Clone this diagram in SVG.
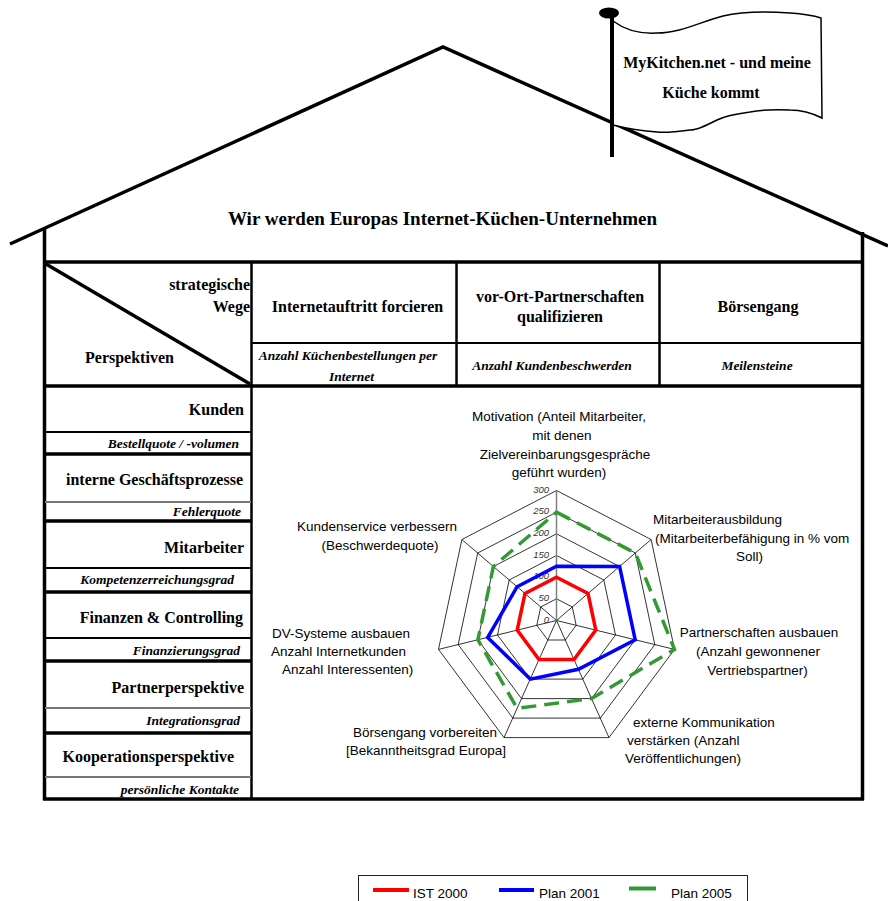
<svg xmlns="http://www.w3.org/2000/svg" width="888" height="901" viewBox="0 0 888 901">
  <defs>
    <style>
      .serif { font-family: "Liberation Serif", "Times New Roman", serif; fill: #000; }
      .b16 { font-size: 16px; font-weight: bold; }
      .bi { font-size: 13.5px; font-weight: bold; font-style: italic; }
      .sans { font-family: "Liberation Sans", Arial, sans-serif; fill: #000; font-size: 13.5px; }
      .tick { font-family: "Liberation Sans", Arial, sans-serif; font-size: 9.5px; font-style: italic; fill: #333; text-anchor: end; }
      .thick { stroke: #000; stroke-width: 3.5; fill: none; }
      .mid { stroke: #000; stroke-width: 2.5; fill: none; }
      .thin { stroke: #000; stroke-width: 2; fill: none; }
      .grey { stroke: #777; stroke-width: 2; fill: none; }
      .ring { stroke: #000; stroke-width: 0.8; fill: none; }
      .end { text-anchor: end; }
      .mid-a { text-anchor: middle; }
    </style>
  </defs>
  <rect width="888" height="901" fill="#fff"/>

  <!-- roof and walls -->
  <g id="house">
    <polyline class="thick" points="10,244 443,47 888,246"/>
    <line class="thick" x1="44.5" y1="228" x2="44.5" y2="800"/>
    <line class="thick" x1="862.5" y1="232" x2="862.5" y2="800"/>
  </g>

  <!-- flag on the pole -->
  <g id="flag">
    <path d="M613,21 C625,30 640,34 657,33 C680,33 700,22 723,16 C740,12 760,11 790,13 C805,14 815,16 821,18 L822,118 C812,113 800,110 790,110 C770,109 760,110 750,112 C735,114 725,116 717,120 C705,126 697,130 690,130 C675,132 665,133 657,132 C640,131 625,128 613,125 Z" fill="#fff" stroke="#000" stroke-width="1.5"/>
    <rect x="610" y="13" width="4" height="144" fill="#000"/>
    <ellipse cx="609" cy="13" rx="10" ry="5.5" fill="#000"/>
    <text class="serif mid-a" x="717" y="68" font-size="16" font-weight="bold">MyKitchen.net - und meine</text>
    <text class="serif mid-a" x="711" y="98" font-size="16" font-weight="bold">Küche kommt</text>
  </g>

  <g id="title">
    <text class="serif mid-a" x="442.5" y="225" font-size="19" font-weight="bold">Wir werden Europas Internet-Küchen-Unternehmen</text>
  </g>

  <!-- table frame -->
  <g id="table-lines">
    <line class="thick" x1="43" y1="262" x2="864" y2="262"/>
    <line class="thick" x1="43" y1="386" x2="864" y2="386"/>
    <line class="thick" x1="43" y1="799" x2="864" y2="799"/>
    <line class="mid" x1="251.5" y1="262" x2="251.5" y2="799"/>
    <line class="mid" x1="456.5" y1="262" x2="456.5" y2="386"/>
    <line class="mid" x1="659.5" y1="262" x2="659.5" y2="386"/>
    <line class="thin" x1="251.5" y1="343" x2="862" y2="343"/>
    <line class="thick" x1="46" y1="264" x2="250" y2="384"/>
  </g>

  <!-- header cells -->
  <g id="corner-cell">
    <text class="serif b16 end" x="250" y="290">strategische</text>
    <text class="serif b16 end" x="250" y="312">Wege</text>
    <text class="serif b16" x="85" y="363">Perspektiven</text>
  </g>
  <g id="way-internet">
    <text class="serif b16 mid-a" x="357.5" y="312">Internetauftritt forcieren</text>
    <text class="serif bi mid-a" x="348" y="360">Anzahl Küchenbestellungen per</text>
    <text class="serif bi mid-a" x="351.5" y="381">Internet</text>
  </g>
  <g id="way-partner">
    <text class="serif b16 mid-a" x="560" y="302">vor-Ort-Partnerschaften</text>
    <text class="serif b16 mid-a" x="560" y="322">qualifizieren</text>
    <text class="serif bi mid-a" x="552" y="370">Anzahl Kundenbeschwerden</text>
  </g>
  <g id="way-ipo">
    <text class="serif b16 mid-a" x="758" y="312">Börsengang</text>
    <text class="serif bi mid-a" x="757" y="370">Meilensteine</text>
  </g>

  <!-- perspective rows -->
  <g id="perspective-lines">
    <line class="thin" x1="45" y1="432" x2="251" y2="432"/>
    <line class="thick" x1="45" y1="454" x2="251" y2="454"/>
    <line class="grey" x1="45" y1="502" x2="251" y2="502"/>
    <line class="thick" x1="45" y1="521" x2="251" y2="521"/>
    <line class="thin" x1="45" y1="568" x2="251" y2="568"/>
    <line class="thick" x1="45" y1="592" x2="251" y2="592"/>
    <line class="thin" x1="45" y1="638" x2="251" y2="638"/>
    <line class="thick" x1="45" y1="661" x2="251" y2="661"/>
    <line class="grey" x1="45" y1="708" x2="251" y2="708"/>
    <line class="thick" x1="45" y1="733" x2="251" y2="733"/>
    <line class="grey" x1="45" y1="777" x2="251" y2="777"/>
  </g>
  <g id="p-kunden">
    <text class="serif b16 end" x="244" y="415">Kunden</text>
    <text class="serif bi end" x="239" y="448">Bestellquote / -volumen</text>
  </g>
  <g id="p-prozesse">
    <text class="serif b16 end" x="243" y="485">interne Geschäftsprozesse</text>
    <text class="serif bi end" x="241" y="516">Fehlerquote</text>
  </g>
  <g id="p-mitarbeiter">
    <text class="serif b16 end" x="244" y="553">Mitarbeiter</text>
    <text class="serif bi end" x="234" y="584">Kompetenzerreichungsgrad</text>
  </g>
  <g id="p-finanzen">
    <text class="serif b16 end" x="243" y="623">Finanzen &amp; Controlling</text>
    <text class="serif bi end" x="240" y="655">Finanzierungsgrad</text>
  </g>
  <g id="p-partner">
    <text class="serif b16 end" x="244" y="693">Partnerperspektive</text>
    <text class="serif bi end" x="240" y="725">Integrationsgrad</text>
  </g>
  <g id="p-kooperation">
    <text class="serif b16 end" x="234" y="762">Kooperationsperspektive</text>
    <text class="serif bi end" x="239" y="794">persönliche Kontakte</text>
  </g>

  <!-- radar chart -->
  <g id="radar-grid">
    <polygon class="ring" points="556.5,598.8 572.3,607 576.2,625.3 565.3,640 547.8,640 536.8,625.3 540.7,607"/>
    <polygon class="ring" points="556.5,577.2 588,593.5 595.8,630.1 574,659.5 539,659.5 517.2,630.1 525,593.5"/>
    <polygon class="ring" points="556.5,555.5 603.8,580 615.5,635 582.8,679.1 530.3,679.1 497.5,635 509.2,580"/>
    <polygon class="ring" points="556.5,533.8 619.6,566.5 635.2,639.8 591.5,698.6 521.5,698.6 477.9,639.8 493.4,566.5"/>
    <polygon class="ring" points="556.5,512.2 635.3,553 654.8,644.6 600.3,718.1 512.8,718.1 458.2,644.6 477.7,553"/>
    <polygon class="ring" points="556.5,490.5 651.1,539.5 674.5,649.4 609,737.6 504,737.6 438.5,649.4 461.9,539.5"/>
    <path class="ring" d="M556.5,620.5 L651.1,539.5 M556.5,620.5 L674.5,649.4 M556.5,620.5 L609,737.6 M556.5,620.5 L504,737.6 M556.5,620.5 L438.5,649.4 M556.5,620.5 L461.9,539.5"/>
    <line x1="556.5" y1="620.5" x2="556.5" y2="490.5" stroke="#808080" stroke-width="1.5"/>
    <text class="tick" x="549" y="623">0</text>
    <text class="tick" x="549" y="601">50</text>
    <text class="tick" x="549" y="579">100</text>
    <text class="tick" x="549" y="558">150</text>
    <text class="tick" x="549" y="536">200</text>
    <text class="tick" x="549" y="514">250</text>
    <text class="tick" x="549" y="493">300</text>
  </g>
  <g id="radar-series">
    <polygon points="556.5,577.2 588,593.5 595.8,630.1 574,659.5 539,659.5 517.2,630.1 525,593.5" fill="none" stroke="#ff0000" stroke-width="3.5" stroke-linejoin="miter"/>
    <polygon points="556.5,566.3 619.6,566.5 635.2,639.8 578.4,669.3 530.3,679.1 487.7,637.4 517.1,586.7" fill="none" stroke="#0000ff" stroke-width="3.5"/>
    <polygon points="556.5,512.2 635.3,553 674.5,649.4 591.5,698.6 517.1,708.4 477.9,639.8 493.4,566.5" fill="none" stroke="#339933" stroke-width="3.5" stroke-dasharray="15 8"/>
  </g>
  <g id="radar-labels">
    <text class="sans mid-a" x="559" y="421">Motivation (Anteil Mitarbeiter,</text>
    <text class="sans mid-a" x="562" y="440">mit denen</text>
    <text class="sans mid-a" x="565" y="459">Zielvereinbarungsgespräche</text>
    <text class="sans mid-a" x="559" y="477">geführt wurden)</text>
    <text class="sans mid-a" x="377" y="531">Kundenservice verbessern</text>
    <text class="sans mid-a" x="380" y="550">(Beschwerdequote)</text>
    <text class="sans" x="653" y="524">Mitarbeiterausbildung</text>
    <text class="sans" x="655" y="543">(Mitarbeiterbefähigung in % vom</text>
    <text class="sans" x="736" y="561">Soll)</text>
    <text class="sans mid-a" x="759" y="637">Partnerschaften ausbauen</text>
    <text class="sans mid-a" x="758" y="656">(Anzahl gewonnener</text>
    <text class="sans mid-a" x="757.5" y="675">Vertriebspartner)</text>
    <text class="sans" x="633" y="727">externe Kommunikation</text>
    <text class="sans" x="627" y="745">verstärken (Anzahl</text>
    <text class="sans" x="625" y="763">Veröffentlichungen)</text>
    <text class="sans mid-a" x="425" y="737">Börsengang vorbereiten</text>
    <text class="sans mid-a" x="426" y="755">[Bekanntheitsgrad Europa]</text>
    <text class="sans" x="272" y="638">DV-Systeme ausbauen</text>
    <text class="sans" x="271" y="656">Anzahl Internetkunden</text>
    <text class="sans" x="282" y="674">Anzahl Interessenten)</text>
  </g>

  <!-- legend -->
  <g id="legend">
    <rect x="358.5" y="875.5" width="389" height="40" fill="#fff" stroke="#222" stroke-width="1"/>
    <line x1="373" y1="890" x2="409" y2="890" stroke="#ff0000" stroke-width="4"/>
    <text class="sans" x="413" y="898" font-size="15">IST 2000</text>
    <line x1="499" y1="890" x2="534" y2="890" stroke="#0000ff" stroke-width="4"/>
    <text class="sans" x="539" y="898" font-size="15">Plan 2001</text>
    <line x1="629" y1="888.5" x2="656" y2="888.5" stroke="#339933" stroke-width="4"/>
    <text class="sans" x="671" y="898" font-size="15">Plan 2005</text>
  </g>
</svg>
